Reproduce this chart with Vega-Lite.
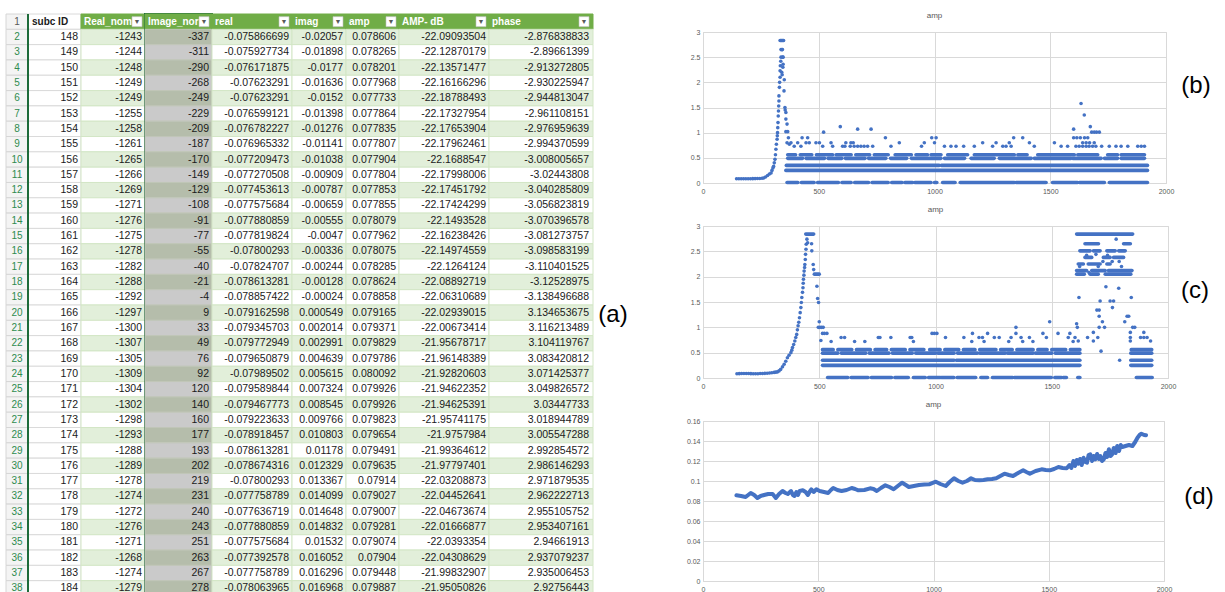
{
"$schema": "https://vega.github.io/schema/vega-lite/v6.json",
"background": "white",
"padding": {"left": 5, "top": 8, "right": 0, "bottom": 0},
"bounds": "flush",
"spacing": 0,
"config": {"view": {"stroke": null}, "font": "Liberation Sans", "axis": {"labelFont": "Liberation Sans", "labelOverlap": false}, "title": {"font": "Liberation Sans"}},
"datasets": {
"table": [
{"r":1,"rnum":"1","sid":"subc ID","rn":"Real_nomi","imn":"Image_nor","re":"real","im":"imag","am":"amp","db":"AMP- dB","ph":"phase"},
{"r":2,"rnum":"2","sid":"148","rn":"-1243","imn":"-337","re":"-0.075866699","im":"-0.02057","am":"0.078606","db":"-22.09093504","ph":"-2.876838833"},
{"r":3,"rnum":"3","sid":"149","rn":"-1244","imn":"-311","re":"-0.075927734","im":"-0.01898","am":"0.078265","db":"-22.12870179","ph":"-2.89661399"},
{"r":4,"rnum":"4","sid":"150","rn":"-1248","imn":"-290","re":"-0.076171875","im":"-0.0177","am":"0.078201","db":"-22.13571477","ph":"-2.913272805"},
{"r":5,"rnum":"5","sid":"151","rn":"-1249","imn":"-268","re":"-0.07623291","im":"-0.01636","am":"0.077968","db":"-22.16166296","ph":"-2.930225947"},
{"r":6,"rnum":"6","sid":"152","rn":"-1249","imn":"-249","re":"-0.07623291","im":"-0.0152","am":"0.077733","db":"-22.18788493","ph":"-2.944813047"},
{"r":7,"rnum":"7","sid":"153","rn":"-1255","imn":"-229","re":"-0.076599121","im":"-0.01398","am":"0.077864","db":"-22.17327954","ph":"-2.961108151"},
{"r":8,"rnum":"8","sid":"154","rn":"-1258","imn":"-209","re":"-0.076782227","im":"-0.01276","am":"0.077835","db":"-22.17653904","ph":"-2.976959639"},
{"r":9,"rnum":"9","sid":"155","rn":"-1261","imn":"-187","re":"-0.076965332","im":"-0.01141","am":"0.077807","db":"-22.17962461","ph":"-2.994370599"},
{"r":10,"rnum":"10","sid":"156","rn":"-1265","imn":"-170","re":"-0.077209473","im":"-0.01038","am":"0.077904","db":"-22.1688547","ph":"-3.008005657"},
{"r":11,"rnum":"11","sid":"157","rn":"-1266","imn":"-149","re":"-0.077270508","im":"-0.00909","am":"0.077804","db":"-22.17998006","ph":"-3.02443808"},
{"r":12,"rnum":"12","sid":"158","rn":"-1269","imn":"-129","re":"-0.077453613","im":"-0.00787","am":"0.077853","db":"-22.17451792","ph":"-3.040285809"},
{"r":13,"rnum":"13","sid":"159","rn":"-1271","imn":"-108","re":"-0.077575684","im":"-0.00659","am":"0.077855","db":"-22.17424299","ph":"-3.056823819"},
{"r":14,"rnum":"14","sid":"160","rn":"-1276","imn":"-91","re":"-0.077880859","im":"-0.00555","am":"0.078079","db":"-22.1493528","ph":"-3.070396578"},
{"r":15,"rnum":"15","sid":"161","rn":"-1275","imn":"-77","re":"-0.077819824","im":"-0.0047","am":"0.077962","db":"-22.16238426","ph":"-3.081273757"},
{"r":16,"rnum":"16","sid":"162","rn":"-1278","imn":"-55","re":"-0.07800293","im":"-0.00336","am":"0.078075","db":"-22.14974559","ph":"-3.098583199"},
{"r":17,"rnum":"17","sid":"163","rn":"-1282","imn":"-40","re":"-0.07824707","im":"-0.00244","am":"0.078285","db":"-22.1264124","ph":"-3.110401525"},
{"r":18,"rnum":"18","sid":"164","rn":"-1288","imn":"-21","re":"-0.078613281","im":"-0.00128","am":"0.078624","db":"-22.08892719","ph":"-3.12528975"},
{"r":19,"rnum":"19","sid":"165","rn":"-1292","imn":"-4","re":"-0.078857422","im":"-0.00024","am":"0.078858","db":"-22.06310689","ph":"-3.138496688"},
{"r":20,"rnum":"20","sid":"166","rn":"-1297","imn":"9","re":"-0.079162598","im":"0.000549","am":"0.079165","db":"-22.02939015","ph":"3.134653675"},
{"r":21,"rnum":"21","sid":"167","rn":"-1300","imn":"33","re":"-0.079345703","im":"0.002014","am":"0.079371","db":"-22.00673414","ph":"3.116213489"},
{"r":22,"rnum":"22","sid":"168","rn":"-1307","imn":"49","re":"-0.079772949","im":"0.002991","am":"0.079829","db":"-21.95678717","ph":"3.104119767"},
{"r":23,"rnum":"23","sid":"169","rn":"-1305","imn":"76","re":"-0.079650879","im":"0.004639","am":"0.079786","db":"-21.96148389","ph":"3.083420812"},
{"r":24,"rnum":"24","sid":"170","rn":"-1309","imn":"92","re":"-0.07989502","im":"0.005615","am":"0.080092","db":"-21.92820603","ph":"3.071425377"},
{"r":25,"rnum":"25","sid":"171","rn":"-1304","imn":"120","re":"-0.079589844","im":"0.007324","am":"0.079926","db":"-21.94622352","ph":"3.049826572"},
{"r":26,"rnum":"26","sid":"172","rn":"-1302","imn":"140","re":"-0.079467773","im":"0.008545","am":"0.079926","db":"-21.94625391","ph":"3.03447733"},
{"r":27,"rnum":"27","sid":"173","rn":"-1298","imn":"160","re":"-0.079223633","im":"0.009766","am":"0.079823","db":"-21.95741175","ph":"3.018944789"},
{"r":28,"rnum":"28","sid":"174","rn":"-1293","imn":"177","re":"-0.078918457","im":"0.010803","am":"0.079654","db":"-21.9757984","ph":"3.005547288"},
{"r":29,"rnum":"29","sid":"175","rn":"-1288","imn":"193","re":"-0.078613281","im":"0.01178","am":"0.079491","db":"-21.99364612","ph":"2.992854572"},
{"r":30,"rnum":"30","sid":"176","rn":"-1289","imn":"202","re":"-0.078674316","im":"0.012329","am":"0.079635","db":"-21.97797401","ph":"2.986146293"},
{"r":31,"rnum":"31","sid":"177","rn":"-1278","imn":"219","re":"-0.07800293","im":"0.013367","am":"0.07914","db":"-22.03208873","ph":"2.971879535"},
{"r":32,"rnum":"32","sid":"178","rn":"-1274","imn":"231","re":"-0.077758789","im":"0.014099","am":"0.079027","db":"-22.04452641","ph":"2.962222713"},
{"r":33,"rnum":"33","sid":"179","rn":"-1272","imn":"240","re":"-0.077636719","im":"0.014648","am":"0.079007","db":"-22.04673674","ph":"2.955105752"},
{"r":34,"rnum":"34","sid":"180","rn":"-1276","imn":"243","re":"-0.077880859","im":"0.014832","am":"0.079281","db":"-22.01666877","ph":"2.953407161"},
{"r":35,"rnum":"35","sid":"181","rn":"-1271","imn":"251","re":"-0.077575684","im":"0.01532","am":"0.079074","db":"-22.0393354","ph":"2.94661913"},
{"r":36,"rnum":"36","sid":"182","rn":"-1268","imn":"263","re":"-0.077392578","im":"0.016052","am":"0.07904","db":"-22.04308629","ph":"2.937079237"},
{"r":37,"rnum":"37","sid":"183","rn":"-1274","imn":"267","re":"-0.077758789","im":"0.016296","am":"0.079448","db":"-21.99832907","ph":"2.935006453"},
{"r":38,"rnum":"38","sid":"184","rn":"-1279","imn":"278","re":"-0.078063965","im":"0.016968","am":"0.079887","db":"-21.95050826","ph":"2.92756443"}
],
"b_seg": [
{"x":363,"x2":410,"y":0.01},{"x":425,"x2":480,"y":0.01},{"x":495,"x2":585,"y":0.01},{"x":600,"x2":640,"y":0.01},{"x":655,"x2":715,"y":0.01},{"x":730,"x2":800,"y":0.01},{"x":815,"x2":860,"y":0.01},{"x":872,"x2":905,"y":0.01},{"x":915,"x2":985,"y":0.01},{"x":1000,"x2":1010,"y":0.01},{"x":1035,"x2":1089,"y":0.01},{"x":1111,"x2":1345,"y":0.01},{"x":1352,"x2":1482,"y":0.01},{"x":1510,"x2":1618,"y":0.01},{"x":1626,"x2":1734,"y":0.01},{"x":1755,"x2":1920,"y":0.01},
{"x":358,"x2":1920,"y":0.25},
{"x":360,"x2":1020,"y":0.35},{"x":1030,"x2":1920,"y":0.35},
{"x":366,"x2":430,"y":0.49},{"x":445,"x2":525,"y":0.49},{"x":540,"x2":600,"y":0.49},{"x":615,"x2":700,"y":0.49},{"x":715,"x2":790,"y":0.49},{"x":810,"x2":880,"y":0.49},{"x":900,"x2":1028,"y":0.49},{"x":1043,"x2":1130,"y":0.49},{"x":1158,"x2":1258,"y":0.49},{"x":1280,"x2":1418,"y":0.49},{"x":1431,"x2":1590,"y":0.49},{"x":1597,"x2":1720,"y":0.49},{"x":1734,"x2":1791,"y":0.49},{"x":1806,"x2":1907,"y":0.49},
{"x":366,"x2":400,"y":0.56},{"x":420,"x2":470,"y":0.56},{"x":490,"x2":560,"y":0.56},{"x":575,"x2":640,"y":0.56},{"x":660,"x2":720,"y":0.56},{"x":740,"x2":800,"y":0.56},{"x":830,"x2":900,"y":0.56},{"x":920,"x2":970,"y":0.56},{"x":985,"x2":1028,"y":0.56},{"x":1057,"x2":1143,"y":0.56},{"x":1172,"x2":1345,"y":0.56},{"x":1360,"x2":1400,"y":0.56},{"x":1446,"x2":1604,"y":0.56},{"x":1619,"x2":1705,"y":0.56},{"x":1748,"x2":1791,"y":0.56},{"x":1806,"x2":1907,"y":0.56}
],
"b_pts": [
{"x":145,"y":0.085},{"x":155,"y":0.085},{"x":165,"y":0.084},{"x":175,"y":0.084},{"x":185,"y":0.085},{"x":195,"y":0.085},{"x":205,"y":0.085},{"x":215,"y":0.086},{"x":225,"y":0.087},{"x":235,"y":0.088},{"x":245,"y":0.09},{"x":255,"y":0.095},{"x":262,"y":0.1},{"x":270,"y":0.12},{"x":279,"y":0.15},{"x":287,"y":0.18},{"x":294,"y":0.2},{"x":298,"y":0.25},{"x":302,"y":0.3},{"x":305,"y":0.33},{"x":308,"y":0.4},{"x":311,"y":0.47},{"x":313,"y":0.56},{"x":315,"y":0.67},{"x":317,"y":0.77},{"x":320,"y":0.87},{"x":321,"y":0.94},{"x":322,"y":1.0},{"x":323,"y":1.1},{"x":324,"y":1.2},{"x":325,"y":1.33},{"x":326,"y":1.43},{"x":327,"y":1.53},{"x":328,"y":1.63},{"x":328,"y":1.73},{"x":330,"y":1.9},{"x":331,"y":2.0},{"x":333,"y":2.1},{"x":333,"y":2.23},{"x":334,"y":2.33},{"x":336,"y":2.42},{"x":337,"y":2.5},{"x":337,"y":2.65},{"x":333,"y":2.83},{"x":336,"y":2.83},{"x":339,"y":2.83},{"x":342,"y":2.83},{"x":345,"y":2.83},{"x":348,"y":2.83},{"x":341,"y":2.65},{"x":343,"y":2.65},{"x":344,"y":2.5},{"x":346,"y":2.5},{"x":346,"y":2.36},{"x":345,"y":2.3},{"x":340,"y":2.2},{"x":342,"y":2.15},{"x":351,"y":2.05},{"x":350,"y":1.83},{"x":354,"y":1.5},{"x":355,"y":1.45},{"x":358,"y":1.4},{"x":358,"y":1.27},{"x":363,"y":1.17},{"x":366,"y":1.02},{"x":358,"y":1.02},{"x":369,"y":0.9},{"x":363,"y":0.8},{"x":373,"y":0.77},
{"x":428,"y":0.9},{"x":452,"y":0.9},{"x":788,"y":0.9},{"x":988,"y":0.9},{"x":1007,"y":0.9},{"x":1342,"y":0.9},{"x":1381,"y":0.9},{"x":1601,"y":0.9},{"x":1615,"y":0.9},{"x":1630,"y":0.9},{"x":1648,"y":0.9},{"x":1662,"y":0.9},
{"x":380,"y":0.8},{"x":409,"y":0.8},{"x":445,"y":0.8},{"x":459,"y":0.8},{"x":488,"y":0.8},{"x":503,"y":0.8},{"x":553,"y":0.8},{"x":617,"y":0.8},{"x":639,"y":0.8},{"x":649,"y":0.8},{"x":848,"y":0.8},{"x":956,"y":0.8},{"x":1000,"y":0.8},{"x":1208,"y":0.8},{"x":1266,"y":0.8},{"x":1323,"y":0.8},{"x":1410,"y":0.8},{"x":1518,"y":0.8},{"x":1640,"y":0.8},{"x":1655,"y":0.8},{"x":1670,"y":0.8},{"x":1690,"y":0.8},
{"x":394,"y":0.73},{"x":423,"y":0.73},{"x":517,"y":0.73},{"x":560,"y":0.73},{"x":603,"y":0.73},{"x":613,"y":0.73},{"x":636,"y":0.73},{"x":653,"y":0.73},{"x":668,"y":0.73},{"x":682,"y":0.73},{"x":696,"y":0.73},{"x":711,"y":0.73},{"x":733,"y":0.73},{"x":812,"y":0.73},{"x":944,"y":0.73},{"x":1043,"y":0.73},{"x":1071,"y":0.73},{"x":1093,"y":0.73},{"x":1126,"y":0.73},{"x":1172,"y":0.73},{"x":1251,"y":0.73},{"x":1295,"y":0.73},{"x":1309,"y":0.73},{"x":1331,"y":0.73},{"x":1431,"y":0.73},{"x":1547,"y":0.73},{"x":1575,"y":0.73},{"x":1611,"y":0.73},{"x":1625,"y":0.73},{"x":1640,"y":0.73},{"x":1655,"y":0.73},{"x":1668,"y":0.73},{"x":1683,"y":0.73},{"x":1697,"y":0.73},{"x":1722,"y":0.73},{"x":1755,"y":0.73},{"x":1784,"y":0.73},{"x":1806,"y":0.73},{"x":1835,"y":0.73},{"x":1878,"y":0.73},{"x":1893,"y":0.73},{"x":1907,"y":0.73},
{"x":521,"y":1.01},{"x":1679,"y":1.01},{"x":1690,"y":1.01},{"x":1700,"y":1.01},{"x":1712,"y":1.01},{"x":668,"y":1.07},{"x":726,"y":1.07},{"x":1601,"y":1.07},{"x":593,"y":1.12},{"x":1673,"y":1.12},{"x":1647,"y":1.35},{"x":1633,"y":1.58}
],
"c_seg": [
{"x":442,"x2":476,"y":2.84},{"x":479,"x2":500,"y":2.05},
{"x":536,"x2":623,"y":0.01},{"x":637,"x2":710,"y":0.01},{"x":724,"x2":811,"y":0.01},{"x":825,"x2":883,"y":0.01},{"x":905,"x2":956,"y":0.01},{"x":970,"x2":1021,"y":0.01},{"x":1025,"x2":1079,"y":0.01},{"x":1093,"x2":1173,"y":0.01},{"x":1195,"x2":1224,"y":0.01},{"x":1245,"x2":1332,"y":0.01},{"x":1339,"x2":1498,"y":0.01},{"x":1513,"x2":1542,"y":0.01},{"x":1549,"x2":1563,"y":0.01},{"x":1612,"x2":1621,"y":0.01},{"x":1864,"x2":1932,"y":0.01},
{"x":514,"x2":1621,"y":0.25},{"x":1840,"x2":1930,"y":0.25},
{"x":514,"x2":1080,"y":0.35},{"x":1090,"x2":1621,"y":0.35},{"x":1840,"x2":1930,"y":0.35},
{"x":514,"x2":580,"y":0.49},{"x":595,"x2":700,"y":0.49},{"x":715,"x2":800,"y":0.49},{"x":815,"x2":900,"y":0.49},{"x":915,"x2":1000,"y":0.49},{"x":1010,"x2":1080,"y":0.49},{"x":1095,"x2":1180,"y":0.49},{"x":1190,"x2":1300,"y":0.49},{"x":1310,"x2":1420,"y":0.49},{"x":1430,"x2":1500,"y":0.49},{"x":1515,"x2":1621,"y":0.49},{"x":1840,"x2":1930,"y":0.49},
{"x":514,"x2":560,"y":0.56},{"x":580,"x2":640,"y":0.56},{"x":660,"x2":720,"y":0.56},{"x":740,"x2":790,"y":0.56},{"x":810,"x2":870,"y":0.56},{"x":890,"x2":950,"y":0.56},{"x":975,"x2":1020,"y":0.56},{"x":1040,"x2":1100,"y":0.56},{"x":1120,"x2":1170,"y":0.56},{"x":1190,"x2":1260,"y":0.56},{"x":1280,"x2":1330,"y":0.56},{"x":1350,"x2":1420,"y":0.56},{"x":1440,"x2":1480,"y":0.56},{"x":1500,"x2":1560,"y":0.56},{"x":1580,"x2":1621,"y":0.56},{"x":1842,"x2":1930,"y":0.56},
{"x":1607,"x2":1848,"y":2.84},
{"x":1643,"x2":1701,"y":2.65},{"x":1809,"x2":1838,"y":2.65},
{"x":1621,"x2":1665,"y":2.51},{"x":1679,"x2":1708,"y":2.51},{"x":1737,"x2":1773,"y":2.51},{"x":1788,"x2":1816,"y":2.51},
{"x":1643,"x2":1672,"y":2.38},{"x":1722,"x2":1751,"y":2.38},{"x":1766,"x2":1809,"y":2.38},
{"x":1614,"x2":1636,"y":2.25},{"x":1657,"x2":1708,"y":2.25},{"x":1737,"x2":1751,"y":2.25},
{"x":1607,"x2":1650,"y":2.12},{"x":1672,"x2":1730,"y":2.12},{"x":1744,"x2":1845,"y":2.12},
{"x":1607,"x2":1640,"y":2.05},{"x":1665,"x2":1700,"y":2.05},{"x":1730,"x2":1840,"y":2.05}
],
"c_pts": [
{"x":146,"y":0.085},{"x":156,"y":0.086},{"x":166,"y":0.088},{"x":176,"y":0.09},{"x":186,"y":0.09},{"x":196,"y":0.088},{"x":206,"y":0.086},{"x":216,"y":0.084},{"x":226,"y":0.083},{"x":236,"y":0.085},{"x":246,"y":0.088},{"x":256,"y":0.09},{"x":266,"y":0.092},{"x":276,"y":0.095},{"x":286,"y":0.1},{"x":296,"y":0.105},{"x":306,"y":0.11},{"x":313,"y":0.115},{"x":320,"y":0.12},{"x":327,"y":0.14},{"x":334,"y":0.17},{"x":342,"y":0.22},{"x":349,"y":0.27},{"x":356,"y":0.33},{"x":363,"y":0.4},{"x":370,"y":0.45},{"x":378,"y":0.5},{"x":382,"y":0.55},{"x":385,"y":0.6},{"x":390,"y":0.66},{"x":395,"y":0.73},{"x":399,"y":0.8},{"x":403,"y":0.86},{"x":406,"y":0.95},{"x":409,"y":1.03},{"x":412,"y":1.1},{"x":415,"y":1.19},{"x":418,"y":1.29},{"x":421,"y":1.39},{"x":423,"y":1.49},{"x":425,"y":1.59},{"x":428,"y":1.69},{"x":430,"y":1.78},{"x":431,"y":1.87},{"x":432,"y":1.95},{"x":434,"y":2.03},{"x":435,"y":2.11},{"x":437,"y":2.18},{"x":438,"y":2.24},{"x":440,"y":2.34},{"x":441,"y":2.44},{"x":443,"y":2.54},{"x":444,"y":2.64},{"x":447,"y":2.74},{"x":450,"y":2.67},{"x":467,"y":2.65},{"x":468,"y":2.51},{"x":474,"y":2.24},{"x":476,"y":2.14},{"x":490,"y":1.81},{"x":493,"y":1.57},{"x":497,"y":1.49},{"x":500,"y":1.11},{"x":496,"y":1.0},{"x":503,"y":1.0},{"x":510,"y":1.0},{"x":517,"y":1.0},{"x":514,"y":0.88},{"x":522,"y":0.88},{"x":533,"y":0.88},{"x":507,"y":0.74},
{"x":594,"y":0.8},{"x":609,"y":0.8},{"x":754,"y":0.8},{"x":761,"y":0.8},{"x":808,"y":0.8},{"x":891,"y":0.8},{"x":898,"y":0.8},{"x":1043,"y":0.8},{"x":1122,"y":0.8},{"x":1187,"y":0.8},{"x":1202,"y":0.8},{"x":1253,"y":0.8},{"x":1274,"y":0.8},{"x":1325,"y":0.8},{"x":1368,"y":0.8},{"x":1404,"y":0.8},{"x":1477,"y":0.8},{"x":1571,"y":0.8},{"x":1600,"y":0.8},
{"x":551,"y":0.72},{"x":652,"y":0.72},{"x":696,"y":0.72},{"x":905,"y":0.72},{"x":1156,"y":0.72},{"x":1209,"y":0.72},{"x":1315,"y":0.72},{"x":1375,"y":0.72},{"x":1419,"y":0.72},{"x":1592,"y":0.72},
{"x":985,"y":0.88},{"x":995,"y":0.88},{"x":1006,"y":0.88},{"x":1159,"y":0.88},{"x":1224,"y":0.88},{"x":1346,"y":0.88},{"x":1462,"y":0.88},{"x":1527,"y":0.88},{"x":1578,"y":0.88},
{"x":1346,"y":1.0},{"x":1491,"y":1.11},{"x":1607,"y":1.07},
{"x":1733,"y":1.8},{"x":1788,"y":1.77},{"x":1617,"y":1.59},{"x":1842,"y":1.59},{"x":1708,"y":1.52},{"x":1751,"y":1.52},{"x":1766,"y":1.52},{"x":1761,"y":1.39},{"x":1694,"y":1.34},{"x":1704,"y":1.34},{"x":1704,"y":1.22},{"x":1824,"y":1.22},{"x":1831,"y":1.22},{"x":1718,"y":1.11},{"x":1814,"y":1.11},{"x":1704,"y":1.0},{"x":1727,"y":1.0},{"x":1610,"y":1.0},{"x":1848,"y":1.0},{"x":1857,"y":1.0},{"x":1679,"y":0.9},{"x":1838,"y":0.9},{"x":1896,"y":0.9},{"x":1654,"y":0.8},{"x":1698,"y":0.8},{"x":1838,"y":0.8},{"x":1882,"y":0.8},{"x":1896,"y":0.8},{"x":1910,"y":0.8},{"x":1614,"y":0.73},{"x":1679,"y":0.73},{"x":1838,"y":0.73},{"x":1925,"y":0.73},{"x":1712,"y":0.53},{"x":1792,"y":0.35},
{"x":1777,"y":2.74},{"x":1650,"y":2.42},{"x":1690,"y":2.44},{"x":1740,"y":2.42},{"x":1760,"y":2.3},{"x":1790,"y":2.3},{"x":1800,"y":2.2},{"x":1620,"y":2.2},{"x":1700,"y":2.2},{"x":1720,"y":2.3},{"x":1660,"y":2.08}
],
"d_line": [
{"x":145,"y":0.0857},{"x":165,"y":0.085},{"x":185,"y":0.084},{"x":207,"y":0.088},{"x":222,"y":0.086},{"x":236,"y":0.083},{"x":250,"y":0.085},{"x":265,"y":0.086},{"x":283,"y":0.087},{"x":302,"y":0.087},{"x":316,"y":0.083},{"x":330,"y":0.087},{"x":345,"y":0.09},{"x":358,"y":0.088},{"x":368,"y":0.087},{"x":382,"y":0.09},{"x":390,"y":0.086},{"x":397,"y":0.085},{"x":405,"y":0.089},{"x":412,"y":0.086},{"x":419,"y":0.09},{"x":433,"y":0.0907},{"x":445,"y":0.089},{"x":455,"y":0.086},{"x":462,"y":0.089},{"x":470,"y":0.0917},{"x":480,"y":0.089},{"x":492,"y":0.0917},{"x":506,"y":0.09},{"x":525,"y":0.089},{"x":543,"y":0.088},{"x":555,"y":0.091},{"x":565,"y":0.093},{"x":583,"y":0.091},{"x":601,"y":0.09},{"x":623,"y":0.091},{"x":645,"y":0.093},{"x":660,"y":0.092},{"x":674,"y":0.0907},{"x":700,"y":0.091},{"x":725,"y":0.0927},{"x":740,"y":0.092},{"x":754,"y":0.09},{"x":772,"y":0.093},{"x":791,"y":0.0957},{"x":809,"y":0.094},{"x":827,"y":0.0917},{"x":845,"y":0.095},{"x":864,"y":0.0983},{"x":880,"y":0.096},{"x":893,"y":0.094},{"x":915,"y":0.095},{"x":937,"y":0.096},{"x":960,"y":0.0965},{"x":981,"y":0.0967},{"x":1010,"y":0.0993},{"x":1030,"y":0.097},{"x":1053,"y":0.095},{"x":1070,"y":0.099},{"x":1089,"y":0.1027},{"x":1108,"y":0.1},{"x":1126,"y":0.0983},{"x":1145,"y":0.1},{"x":1163,"y":0.1027},{"x":1180,"y":0.101},{"x":1199,"y":0.1007},{"x":1217,"y":0.101},{"x":1235,"y":0.1017},{"x":1254,"y":0.102},{"x":1272,"y":0.1027},{"x":1290,"y":0.105},{"x":1308,"y":0.1073},{"x":1327,"y":0.106},{"x":1345,"y":0.105},{"x":1367,"y":0.108},{"x":1389,"y":0.1107},{"x":1403,"y":0.109},{"x":1418,"y":0.1073},{"x":1443,"y":0.11},{"x":1469,"y":0.1117},{"x":1487,"y":0.111},{"x":1505,"y":0.1107},{"x":1523,"y":0.112},{"x":1542,"y":0.114},{"x":1560,"y":0.113},{"x":1578,"y":0.1127},{"x":1590,"y":0.116},{"x":1598,"y":0.113},{"x":1607,"y":0.12},{"x":1614,"y":0.115},{"x":1622,"y":0.121},{"x":1629,"y":0.1173},{"x":1636,"y":0.122},{"x":1643,"y":0.116},{"x":1651,"y":0.1233},{"x":1658,"y":0.119},{"x":1666,"y":0.1183},{"x":1673,"y":0.126},{"x":1680,"y":0.1267},{"x":1688,"y":0.12},{"x":1695,"y":0.125},{"x":1702,"y":0.1217},{"x":1710,"y":0.127},{"x":1717,"y":0.122},{"x":1724,"y":0.125},{"x":1731,"y":0.12},{"x":1739,"y":0.1217},{"x":1746,"y":0.128},{"x":1753,"y":0.124},{"x":1761,"y":0.1317},{"x":1768,"y":0.125},{"x":1775,"y":0.1267},{"x":1782,"y":0.133},{"x":1790,"y":0.128},{"x":1797,"y":0.135},{"x":1805,"y":0.13},{"x":1812,"y":0.136},{"x":1819,"y":0.134},{"x":1833,"y":0.135},{"x":1848,"y":0.136},{"x":1863,"y":0.135},{"x":1875,"y":0.139},{"x":1885,"y":0.1433},{"x":1894,"y":0.146},{"x":1902,"y":0.1473},{"x":1914,"y":0.146},{"x":1922,"y":0.1457}
]
},
"hconcat": [
 {"width": 22, "height": 582, "data": {"name": "table"}, "layer": [
  {"mark": {"type": "rect", "strokeWidth": 1, "fill": "#F4F4F4", "stroke": "#D6D6D6"}, "encoding": {"y": {"field": "r", "type": "ordinal", "axis": null, "scale": {"paddingInner": 0, "paddingOuter": 0}}}},
  {"mark": {"type": "text", "fontSize": 10}, "encoding": {"y": {"field": "r", "type": "ordinal", "axis": null}, "x": {"datum": 0.5, "type": "quantitative", "scale": {"domain": [0, 1]}, "axis": null}, "text": {"field": "rnum"}, "color": {"condition": {"test": "datum.r == 1", "value": "#595959"}, "value": "#2E8B4E"}}}
 ]},
 {"width": 53, "height": 582, "data": {"name": "table"}, "layer": [
  {"mark": {"type": "rect", "strokeWidth": 1, "fill": "#FFFFFF", "stroke": "#DADADA"}, "encoding": {"y": {"field": "r", "type": "ordinal", "axis": null, "scale": {"paddingInner": 0, "paddingOuter": 0}}}},
  {"transform": [{"filter": "datum.r > 1"}], "mark": {"type": "text", "align": "right", "dx": -3, "fontSize": 10.5, "color": "#1A1A1A"}, "encoding": {"y": {"field": "r", "type": "ordinal", "axis": null}, "x": {"datum": 1, "type": "quantitative", "scale": {"domain": [0, 1]}, "axis": null}, "text": {"field": "sid"}}},
  {"transform": [{"filter": "datum.r == 1"}], "mark": {"type": "text", "align": "left", "dx": 4, "fontSize": 10, "fontWeight": "bold", "color": "#1A1A1A"}, "encoding": {"y": {"field": "r", "type": "ordinal", "axis": null}, "x": {"datum": 0, "type": "quantitative", "axis": null}, "text": {"field": "sid"}}},
  {"mark": {"type": "rule", "color": "#1E6B3A", "strokeWidth": 2}, "encoding": {"x": {"datum": 0, "type": "quantitative", "axis": null}}}
 ]},
 {"width": 64, "height": 582, "data": {"name": "table"}, "layer": [
  {"mark": {"type": "rect", "strokeWidth": 1}, "encoding": {"y": {"field": "r", "type": "ordinal", "axis": null, "scale": {"paddingInner": 0, "paddingOuter": 0}}, "fill": {"condition": [{"test": "datum.r == 1", "value": "#70AD47"}, {"test": "datum.r % 2 == 0", "value": "#E2EFDA"}], "value": "#FFFFFF"}, "stroke": {"condition": {"test": "datum.r == 1", "value": "#70AD47"}, "value": "#D3E6C6"}}},
  {"transform": [{"filter": "datum.r > 1"}], "mark": {"type": "text", "align": "right", "dx": -3, "fontSize": 10.5, "color": "#1A1A1A"}, "encoding": {"y": {"field": "r", "type": "ordinal", "axis": null}, "x": {"datum": 1, "type": "quantitative", "scale": {"domain": [0, 1]}, "axis": null}, "text": {"field": "rn"}}},
  {"transform": [{"filter": "datum.r == 1"}], "mark": {"type": "text", "align": "left", "dx": 3, "fontSize": 10, "fontWeight": "bold", "color": "white"}, "encoding": {"y": {"field": "r", "type": "ordinal", "axis": null}, "x": {"datum": 0, "type": "quantitative", "axis": null}, "text": {"field": "rn"}}},
  {"transform": [{"filter": "datum.r == 1"}], "mark": {"type": "square", "size": 100, "filled": true, "color": "white", "opacity": 1, "stroke": "#BFBFBF", "strokeWidth": 0.6, "xOffset": -8}, "encoding": {"y": {"field": "r", "type": "ordinal", "axis": null}, "x": {"datum": 1, "type": "quantitative", "axis": null}}},
  {"transform": [{"filter": "datum.r == 1"}], "mark": {"type": "text", "text": "▼", "fontSize": 7, "color": "#595959", "xOffset": -8}, "encoding": {"y": {"field": "r", "type": "ordinal", "axis": null}, "x": {"datum": 1, "type": "quantitative", "axis": null}}}
 ]},
 {"width": 67, "height": 582, "data": {"name": "table"}, "view": {"stroke": "#1E6B3A", "strokeWidth": 2}, "layer": [
  {"mark": {"type": "rect", "strokeWidth": 1}, "encoding": {"y": {"field": "r", "type": "ordinal", "axis": null, "scale": {"paddingInner": 0, "paddingOuter": 0}}, "fill": {"condition": [{"test": "datum.r == 1", "value": "#70AD47"}, {"test": "datum.r % 2 == 0", "value": "#B5BDAB"}], "value": "#CACACA"}, "stroke": {"condition": {"test": "datum.r == 1", "value": "#70AD47"}, "value": "#C0C6B8"}}},
  {"transform": [{"filter": "datum.r > 1"}], "mark": {"type": "text", "align": "right", "dx": -3, "fontSize": 10.5, "color": "#1A1A1A"}, "encoding": {"y": {"field": "r", "type": "ordinal", "axis": null}, "x": {"datum": 1, "type": "quantitative", "scale": {"domain": [0, 1]}, "axis": null}, "text": {"field": "imn"}}},
  {"transform": [{"filter": "datum.r == 1"}], "mark": {"type": "text", "align": "left", "dx": 3, "fontSize": 10, "fontWeight": "bold", "color": "white"}, "encoding": {"y": {"field": "r", "type": "ordinal", "axis": null}, "x": {"datum": 0, "type": "quantitative", "axis": null}, "text": {"field": "imn"}}},
  {"transform": [{"filter": "datum.r == 1"}], "mark": {"type": "square", "size": 100, "filled": true, "color": "white", "opacity": 1, "stroke": "#BFBFBF", "strokeWidth": 0.6, "xOffset": -8}, "encoding": {"y": {"field": "r", "type": "ordinal", "axis": null}, "x": {"datum": 1, "type": "quantitative", "axis": null}}},
  {"transform": [{"filter": "datum.r == 1"}], "mark": {"type": "text", "text": "▼", "fontSize": 7, "color": "#595959", "xOffset": -8}, "encoding": {"y": {"field": "r", "type": "ordinal", "axis": null}, "x": {"datum": 1, "type": "quantitative", "axis": null}}}
 ]},
 {"width": 80, "height": 582, "data": {"name": "table"}, "layer": [
  {"mark": {"type": "rect", "strokeWidth": 1}, "encoding": {"y": {"field": "r", "type": "ordinal", "axis": null, "scale": {"paddingInner": 0, "paddingOuter": 0}}, "fill": {"condition": [{"test": "datum.r == 1", "value": "#70AD47"}, {"test": "datum.r % 2 == 0", "value": "#E2EFDA"}], "value": "#FFFFFF"}, "stroke": {"condition": {"test": "datum.r == 1", "value": "#70AD47"}, "value": "#D3E6C6"}}},
  {"transform": [{"filter": "datum.r > 1"}], "mark": {"type": "text", "align": "right", "dx": -3, "fontSize": 10.5, "color": "#1A1A1A"}, "encoding": {"y": {"field": "r", "type": "ordinal", "axis": null}, "x": {"datum": 1, "type": "quantitative", "scale": {"domain": [0, 1]}, "axis": null}, "text": {"field": "re"}}},
  {"transform": [{"filter": "datum.r == 1"}], "mark": {"type": "text", "align": "left", "dx": 3, "fontSize": 10, "fontWeight": "bold", "color": "white"}, "encoding": {"y": {"field": "r", "type": "ordinal", "axis": null}, "x": {"datum": 0, "type": "quantitative", "axis": null}, "text": {"field": "re"}}},
  {"transform": [{"filter": "datum.r == 1"}], "mark": {"type": "square", "size": 100, "filled": true, "color": "white", "opacity": 1, "stroke": "#BFBFBF", "strokeWidth": 0.6, "xOffset": -8}, "encoding": {"y": {"field": "r", "type": "ordinal", "axis": null}, "x": {"datum": 1, "type": "quantitative", "axis": null}}},
  {"transform": [{"filter": "datum.r == 1"}], "mark": {"type": "text", "text": "▼", "fontSize": 7, "color": "#595959", "xOffset": -8}, "encoding": {"y": {"field": "r", "type": "ordinal", "axis": null}, "x": {"datum": 1, "type": "quantitative", "axis": null}}}
 ]},
 {"width": 54, "height": 582, "data": {"name": "table"}, "layer": [
  {"mark": {"type": "rect", "strokeWidth": 1}, "encoding": {"y": {"field": "r", "type": "ordinal", "axis": null, "scale": {"paddingInner": 0, "paddingOuter": 0}}, "fill": {"condition": [{"test": "datum.r == 1", "value": "#70AD47"}, {"test": "datum.r % 2 == 0", "value": "#E2EFDA"}], "value": "#FFFFFF"}, "stroke": {"condition": {"test": "datum.r == 1", "value": "#70AD47"}, "value": "#D3E6C6"}}},
  {"transform": [{"filter": "datum.r > 1"}], "mark": {"type": "text", "align": "right", "dx": -3, "fontSize": 10.5, "color": "#1A1A1A"}, "encoding": {"y": {"field": "r", "type": "ordinal", "axis": null}, "x": {"datum": 1, "type": "quantitative", "scale": {"domain": [0, 1]}, "axis": null}, "text": {"field": "im"}}},
  {"transform": [{"filter": "datum.r == 1"}], "mark": {"type": "text", "align": "left", "dx": 3, "fontSize": 10, "fontWeight": "bold", "color": "white"}, "encoding": {"y": {"field": "r", "type": "ordinal", "axis": null}, "x": {"datum": 0, "type": "quantitative", "axis": null}, "text": {"field": "im"}}},
  {"transform": [{"filter": "datum.r == 1"}], "mark": {"type": "square", "size": 100, "filled": true, "color": "white", "opacity": 1, "stroke": "#BFBFBF", "strokeWidth": 0.6, "xOffset": -8}, "encoding": {"y": {"field": "r", "type": "ordinal", "axis": null}, "x": {"datum": 1, "type": "quantitative", "axis": null}}},
  {"transform": [{"filter": "datum.r == 1"}], "mark": {"type": "text", "text": "▼", "fontSize": 7, "color": "#595959", "xOffset": -8}, "encoding": {"y": {"field": "r", "type": "ordinal", "axis": null}, "x": {"datum": 1, "type": "quantitative", "axis": null}}}
 ]},
 {"width": 53, "height": 582, "data": {"name": "table"}, "layer": [
  {"mark": {"type": "rect", "strokeWidth": 1}, "encoding": {"y": {"field": "r", "type": "ordinal", "axis": null, "scale": {"paddingInner": 0, "paddingOuter": 0}}, "fill": {"condition": [{"test": "datum.r == 1", "value": "#70AD47"}, {"test": "datum.r % 2 == 0", "value": "#E2EFDA"}], "value": "#FFFFFF"}, "stroke": {"condition": {"test": "datum.r == 1", "value": "#70AD47"}, "value": "#D3E6C6"}}},
  {"transform": [{"filter": "datum.r > 1"}], "mark": {"type": "text", "align": "right", "dx": -3, "fontSize": 10.5, "color": "#1A1A1A"}, "encoding": {"y": {"field": "r", "type": "ordinal", "axis": null}, "x": {"datum": 1, "type": "quantitative", "scale": {"domain": [0, 1]}, "axis": null}, "text": {"field": "am"}}},
  {"transform": [{"filter": "datum.r == 1"}], "mark": {"type": "text", "align": "left", "dx": 3, "fontSize": 10, "fontWeight": "bold", "color": "white"}, "encoding": {"y": {"field": "r", "type": "ordinal", "axis": null}, "x": {"datum": 0, "type": "quantitative", "axis": null}, "text": {"field": "am"}}},
  {"transform": [{"filter": "datum.r == 1"}], "mark": {"type": "square", "size": 100, "filled": true, "color": "white", "opacity": 1, "stroke": "#BFBFBF", "strokeWidth": 0.6, "xOffset": -8}, "encoding": {"y": {"field": "r", "type": "ordinal", "axis": null}, "x": {"datum": 1, "type": "quantitative", "axis": null}}},
  {"transform": [{"filter": "datum.r == 1"}], "mark": {"type": "text", "text": "▼", "fontSize": 7, "color": "#595959", "xOffset": -8}, "encoding": {"y": {"field": "r", "type": "ordinal", "axis": null}, "x": {"datum": 1, "type": "quantitative", "axis": null}}}
 ]},
 {"width": 90, "height": 582, "data": {"name": "table"}, "layer": [
  {"mark": {"type": "rect", "strokeWidth": 1}, "encoding": {"y": {"field": "r", "type": "ordinal", "axis": null, "scale": {"paddingInner": 0, "paddingOuter": 0}}, "fill": {"condition": [{"test": "datum.r == 1", "value": "#70AD47"}, {"test": "datum.r % 2 == 0", "value": "#E2EFDA"}], "value": "#FFFFFF"}, "stroke": {"condition": {"test": "datum.r == 1", "value": "#70AD47"}, "value": "#D3E6C6"}}},
  {"transform": [{"filter": "datum.r > 1"}], "mark": {"type": "text", "align": "right", "dx": -3, "fontSize": 10.5, "color": "#1A1A1A"}, "encoding": {"y": {"field": "r", "type": "ordinal", "axis": null}, "x": {"datum": 1, "type": "quantitative", "scale": {"domain": [0, 1]}, "axis": null}, "text": {"field": "db"}}},
  {"transform": [{"filter": "datum.r == 1"}], "mark": {"type": "text", "align": "left", "dx": 3, "fontSize": 10, "fontWeight": "bold", "color": "white"}, "encoding": {"y": {"field": "r", "type": "ordinal", "axis": null}, "x": {"datum": 0, "type": "quantitative", "axis": null}, "text": {"field": "db"}}},
  {"transform": [{"filter": "datum.r == 1"}], "mark": {"type": "square", "size": 100, "filled": true, "color": "white", "opacity": 1, "stroke": "#BFBFBF", "strokeWidth": 0.6, "xOffset": -8}, "encoding": {"y": {"field": "r", "type": "ordinal", "axis": null}, "x": {"datum": 1, "type": "quantitative", "axis": null}}},
  {"transform": [{"filter": "datum.r == 1"}], "mark": {"type": "text", "text": "▼", "fontSize": 7, "color": "#595959", "xOffset": -8}, "encoding": {"y": {"field": "r", "type": "ordinal", "axis": null}, "x": {"datum": 1, "type": "quantitative", "axis": null}}}
 ]},
 {"width": 104, "height": 582, "data": {"name": "table"}, "layer": [
  {"mark": {"type": "rect", "strokeWidth": 1}, "encoding": {"y": {"field": "r", "type": "ordinal", "axis": null, "scale": {"paddingInner": 0, "paddingOuter": 0}}, "fill": {"condition": [{"test": "datum.r == 1", "value": "#70AD47"}, {"test": "datum.r % 2 == 0", "value": "#E2EFDA"}], "value": "#FFFFFF"}, "stroke": {"condition": {"test": "datum.r == 1", "value": "#70AD47"}, "value": "#D3E6C6"}}},
  {"transform": [{"filter": "datum.r > 1"}], "mark": {"type": "text", "align": "right", "dx": -4, "fontSize": 10.5, "color": "#1A1A1A"}, "encoding": {"y": {"field": "r", "type": "ordinal", "axis": null}, "x": {"datum": 1, "type": "quantitative", "scale": {"domain": [0, 1]}, "axis": null}, "text": {"field": "ph"}}},
  {"transform": [{"filter": "datum.r == 1"}], "mark": {"type": "text", "align": "left", "dx": 3, "fontSize": 10, "fontWeight": "bold", "color": "white"}, "encoding": {"y": {"field": "r", "type": "ordinal", "axis": null}, "x": {"datum": 0, "type": "quantitative", "axis": null}, "text": {"field": "ph"}}},
  {"transform": [{"filter": "datum.r == 1"}], "mark": {"type": "square", "size": 100, "filled": true, "color": "white", "opacity": 1, "stroke": "#BFBFBF", "strokeWidth": 0.6, "xOffset": -9}, "encoding": {"y": {"field": "r", "type": "ordinal", "axis": null}, "x": {"datum": 1, "type": "quantitative", "axis": null}}},
  {"transform": [{"filter": "datum.r == 1"}], "mark": {"type": "text", "text": "▼", "fontSize": 7, "color": "#595959", "xOffset": -9}, "encoding": {"y": {"field": "r", "type": "ordinal", "axis": null}, "x": {"datum": 1, "type": "quantitative", "axis": null}}}
 ]},
 {"width": 110, "height": 582, "data": {"values": [{"t": "(a)"}]}, "mark": {"type": "text", "fontSize": 24, "dx": -35, "dy": 10, "color": "#000000"}, "encoding": {"text": {"field": "t"}}},
 {"vconcat": [
  {"width": 1, "height": 1, "data": {"values": [{"t": ""}]}, "mark": {"type": "text"}, "encoding": {"text": {"field": "t"}}},
  {"vconcat": [
   {"width": 463, "height": 151, "view": {"stroke": "#D9D9D9"},
    "title": {"text": "amp", "fontSize": 8, "color": "#595959", "fontWeight": "normal", "offset": 8},
    "layer": [
     {"data": {"name": "b_seg"}, "mark": {"type": "rule", "color": "#4472C4", "strokeWidth": 3.6, "strokeCap": "round"},
      "encoding": {"x": {"field": "x", "type": "quantitative", "scale": {"domain": [0, 2000], "nice": false}, "axis": {"values": [0, 500, 1000, 1500, 2000], "tickCount": 20, "format": "d", "grid": true, "gridColor": "#D9D9D9", "domain": false, "ticks": false, "labelFontSize": 7, "labelColor": "#595959", "labelPadding": 4, "labelFlush": false, "title": null}}, "x2": {"field": "x2"}, "y": {"field": "y", "type": "quantitative", "scale": {"domain": [0, 3], "nice": false}, "axis": {"values": [0, 0.5, 1, 1.5, 2, 2.5, 3], "tickCount": 20, "grid": true, "gridColor": "#D9D9D9", "domain": false, "ticks": false, "labelFontSize": 7, "labelColor": "#595959", "labelPadding": 3, "labelFlush": false, "title": null, "labelExpr": "'' + datum.value"}}}},
     {"data": {"name": "b_pts"}, "mark": {"type": "circle", "color": "#4472C4", "size": 13, "opacity": 1},
      "encoding": {"x": {"field": "x", "type": "quantitative"}, "y": {"field": "y", "type": "quantitative"}}},
     {"data": {"values": [{"t": "(b)"}]}, "mark": {"type": "text", "fontSize": 24, "dx": 30, "color": "#000000"},
      "encoding": {"text": {"field": "t"}, "x": {"datum": 2000, "type": "quantitative"}, "y": {"datum": 1.92, "type": "quantitative"}}}
    ]},
   {"width": 465, "height": 152, "view": {"stroke": "#D9D9D9"},
    "title": {"text": "amp", "fontSize": 8, "color": "#595959", "fontWeight": "normal", "offset": 8},
    "layer": [
     {"data": {"name": "c_seg"}, "mark": {"type": "rule", "color": "#4472C4", "strokeWidth": 3.6, "strokeCap": "round"},
      "encoding": {"x": {"field": "x", "type": "quantitative", "scale": {"domain": [0, 2000], "nice": false}, "axis": {"values": [0, 500, 1000, 1500, 2000], "tickCount": 20, "format": "d", "grid": true, "gridColor": "#D9D9D9", "domain": false, "ticks": false, "labelFontSize": 7, "labelColor": "#595959", "labelPadding": 4, "labelFlush": false, "title": null}}, "x2": {"field": "x2"}, "y": {"field": "y", "type": "quantitative", "scale": {"domain": [0, 3], "nice": false}, "axis": {"values": [0, 0.5, 1, 1.5, 2, 2.5, 3], "tickCount": 20, "grid": true, "gridColor": "#D9D9D9", "domain": false, "ticks": false, "labelFontSize": 7, "labelColor": "#595959", "labelPadding": 3, "labelFlush": false, "title": null, "labelExpr": "'' + datum.value"}}}},
     {"data": {"name": "c_pts"}, "mark": {"type": "circle", "color": "#4472C4", "size": 13, "opacity": 1},
      "encoding": {"x": {"field": "x", "type": "quantitative"}, "y": {"field": "y", "type": "quantitative"}}},
     {"data": {"values": [{"t": "(c)"}]}, "mark": {"type": "text", "fontSize": 24, "dx": 27, "color": "#000000"},
      "encoding": {"text": {"field": "t"}, "x": {"datum": 2000, "type": "quantitative"}, "y": {"datum": 1.72, "type": "quantitative"}}}
    ]},
   {"width": 461, "height": 160, "view": {"stroke": "#D9D9D9"},
    "title": {"text": "amp", "fontSize": 8, "color": "#595959", "fontWeight": "normal", "offset": 8},
    "layer": [
     {"data": {"name": "d_line"}, "mark": {"type": "line", "color": "#4472C4", "strokeWidth": 4, "strokeJoin": "round", "strokeCap": "round"},
      "encoding": {"x": {"field": "x", "type": "quantitative", "scale": {"domain": [0, 2000], "nice": false}, "axis": {"values": [0, 500, 1000, 1500, 2000], "tickCount": 20, "format": "d", "grid": true, "gridColor": "#D9D9D9", "domain": false, "ticks": false, "labelFontSize": 7, "labelColor": "#595959", "labelPadding": 4, "labelFlush": false, "title": null}}, "y": {"field": "y", "type": "quantitative", "scale": {"domain": [0, 0.16], "nice": false}, "axis": {"values": [0, 0.02, 0.04, 0.06, 0.08, 0.1, 0.12, 0.14, 0.16], "tickCount": 20, "grid": true, "gridColor": "#D9D9D9", "domain": false, "ticks": false, "labelFontSize": 7, "labelColor": "#595959", "labelPadding": 3, "labelFlush": false, "title": null, "labelExpr": "'' + datum.value"}}}},
     {"data": {"values": [{"t": "(d)"}]}, "mark": {"type": "text", "fontSize": 24, "dx": 35, "color": "#000000"},
      "encoding": {"text": {"field": "t"}, "x": {"datum": 2000, "type": "quantitative"}, "y": {"datum": 0.084, "type": "quantitative"}}}
    ]}
  ], "spacing": 43, "bounds": "flush"}
 ], "spacing": 17, "bounds": "flush"}
]
}
